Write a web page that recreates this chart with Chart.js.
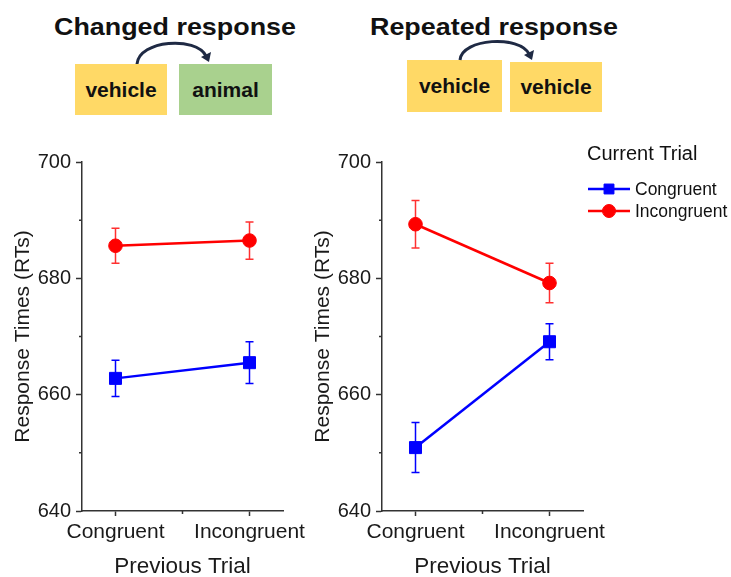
<!DOCTYPE html>
<html>
<head>
<meta charset="utf-8">
<script src="https://cdn.jsdelivr.net/npm/chart.js@4.4.1/dist/chart.umd.min.js"></script>
<style>
    body { margin: 0; width: 731px; height: 577px; overflow: hidden; background: #fff; position: relative;
           font-family: "Liberation Sans", Arial, sans-serif; color: #111; }
    .title { position: absolute; top: 15px; font-size: 24px; line-height: 24px; font-weight: bold;
             transform: scaleX(1.12); transform-origin: left top; white-space: nowrap; }
    .box { position: absolute; display: flex; align-items: center; justify-content: center;
           font-size: 21px; font-weight: bold; color: #111; }
    canvas { position: absolute; }
    svg { position: absolute; left: 0; top: 0; }
</style>
</head>
<body>

<div class="title" style="left:54px">Changed response</div>
<div class="title" style="left:370px">Repeated response</div>

<div class="box" style="left:75px;top:64px;width:92px;height:51px;background:#ffd966">vehicle</div>
<div class="box" style="left:179px;top:64px;width:93px;height:51px;background:#a9d18e">animal</div>
<div class="box" style="left:407px;top:60px;width:95px;height:52px;background:#ffd966">vehicle</div>
<div class="box" style="left:510px;top:62px;width:92px;height:50px;background:#ffd966">vehicle</div>

<svg width="731" height="130">
    <path d="M137,64 C139,40 196,36 206,56" fill="none" stroke="#1f2a44" stroke-width="3"/>
    <polygon points="209,62 201,57 211,52" fill="#1f2a44"/>
    <path d="M460,60 C462,38 520,35 529,54" fill="none" stroke="#1f2a44" stroke-width="3"/>
    <polygon points="532,60 524,55 534,50" fill="#1f2a44"/>
</svg>

<canvas id="chartChanged" width="330" height="447" style="left:0;top:130px"></canvas>
<canvas id="chartRepeated" width="431" height="447" style="left:300px;top:130px"></canvas>

<script>
// previous trial categories (x axis)
const categories = ['Congruent', 'Incongruent'];
// current trial series
const seriesNames = ['Congruent', 'Incongruent'];

// changed response panel
const changedCongruent = [662.8, 665.5];
const changedCongruentErr = [3.1, 3.6];
const changedIncongruent = [685.6, 686.5];
const changedIncongruentErr = [3.0, 3.2];

// repeated response panel
const repeatedCongruent = [650.9, 669.1];
const repeatedCongruentErr = [4.3, 3.1];
const repeatedIncongruent = [689.3, 679.2];
const repeatedIncongruentErr = [4.1, 3.4];

const yMin = 640, yMax = 700, yLabelStep = 20;

const FONT = '"Liberation Sans", Arial, sans-serif';
const blue = '#0000ff';
const red = '#ff0000';
const axisColor = '#333';

// error bars drawn under the markers
const errorBars = {
    id: 'errorBars',
    beforeDatasetsDraw(chart) {
        const ctx = chart.ctx;
        const xs = chart.scales.x, ys = chart.scales.y;
        chart.data.datasets.forEach(ds => {
            ctx.save();
            ctx.strokeStyle = ds.errColor;
            ctx.lineWidth = 1.5;
            ds.data.forEach((p, i) => {
                const x = xs.getPixelForValue(p.x);
                const top = ys.getPixelForValue(p.y + ds.errors[i]);
                const bot = ys.getPixelForValue(p.y - ds.errors[i]);
                ctx.beginPath();
                ctx.moveTo(x, top); ctx.lineTo(x, bot);
                ctx.moveTo(x - 4, top); ctx.lineTo(x + 4, top);
                ctx.moveTo(x - 4, bot); ctx.lineTo(x + 4, bot);
                ctx.stroke();
            });
            ctx.restore();
        });
    }
};

// short ticks for the unlabelled positions
const minorTicks = {
    id: 'minorTicks',
    afterDraw(chart) {
        const ctx = chart.ctx;
        const xs = chart.scales.x, ys = chart.scales.y;
        ctx.save();
        ctx.strokeStyle = axisColor;
        ctx.lineWidth = 1.5;
        ctx.beginPath();
        ys.ticks.forEach(t => {
            if (t.value % yLabelStep === 0) return;
            const y = ys.getPixelForValue(t.value);
            ctx.moveTo(ys.right - 3, y); ctx.lineTo(ys.right, y);
        });
        xs.ticks.forEach(t => {
            if (categories[t.value] !== undefined) return;
            const x = xs.getPixelForValue(t.value);
            ctx.moveTo(x, xs.top); ctx.lineTo(x, xs.top + 3);
        });
        ctx.stroke();
        ctx.restore();
    }
};

// legend to the right of the second panel
const sideLegend = {
    id: 'sideLegend',
    afterDraw(chart) {
        const ctx = chart.ctx;
        ctx.save();
        ctx.fillStyle = '#111';
        ctx.textBaseline = 'middle';
        ctx.font = '20px ' + FONT;
        ctx.fillText('Current Trial', 287, 24);
        ctx.font = '17.5px ' + FONT;
        chart.data.datasets.forEach((ds, i) => {
            const y = 59 + i * 22;
            ctx.strokeStyle = ds.borderColor;
            ctx.lineWidth = 2.5;
            ctx.beginPath(); ctx.moveTo(288, y); ctx.lineTo(330, y); ctx.stroke();
            ctx.fillStyle = ds.backgroundColor;
            ctx.lineWidth = 1;
            Chart.helpers.drawPoint(ctx, {
                pointStyle: ds.pointStyle,
                radius: ds.pointStyle === 'rect' ? 7 : 6.5,
                borderWidth: 1,
                rotation: 0
            }, 309, y);
            ctx.fillStyle = '#111';
            ctx.fillText(ds.label, 335, y + 1);
        });
        ctx.restore();
    }
};

function toPoints(values) {
    return values.map((v, i) => ({ x: i, y: v }));
}

function makeDataset(label, values, errs, color, errColor, style) {
    return {
        label: label,
        data: toPoints(values),
        errors: errs,
        errColor: errColor,
        borderColor: color,
        backgroundColor: color,
        borderWidth: 2.5,
        pointStyle: style,
        pointRadius: style === 'rect' ? 8.5 : 6.8,
        pointBorderWidth: 1,
        pointBackgroundColor: color,
        pointBorderColor: color
    };
}

function makeOptions(rightPad) {
    return {
        responsive: false,
        animation: false,
        layout: { padding: { left: 0, top: 32, right: rightPad, bottom: 0 } },
        plugins: { legend: { display: false }, tooltip: { enabled: false } },
        scales: {
            x: {
                type: 'linear',
                min: -0.25,
                max: 1.25,
                afterBuildTicks: s => { s.ticks = [0, 0.5, 1].map(v => ({ value: v })); },
                afterFit: s => { s.height = 66; s.paddingLeft = 0; s.paddingRight = 0; },
                ticks: {
                    autoSkip: false, maxRotation: 0, padding: 4, color: '#1a1a1a',
                    font: { family: FONT, size: 21 },
                    callback: v => categories[v] !== undefined ? categories[v] : ''
                },
                grid: {
                    drawOnChartArea: false, tickLength: 5, tickWidth: 1.5,
                    tickColor: c => (c.tick && categories[c.tick.value] !== undefined ? axisColor : 'rgba(0,0,0,0)')
                },
                border: { color: axisColor, width: 1.5 },
                title: {
                    display: true, text: 'Previous Trial', color: '#1a1a1a',
                    font: { family: FONT, size: 22.5, lineHeight: 0.9 }, padding: 0
                }
            },
            y: {
                min: yMin,
                max: yMax,
                afterFit: s => { s.width = 82; s.paddingTop = 0; s.paddingBottom = 0; },
                ticks: {
                    stepSize: 10, padding: 5, color: '#1a1a1a',
                    font: { family: FONT, size: 20 },
                    callback: v => (v % yLabelStep === 0 ? v : '')
                },
                grid: {
                    drawOnChartArea: false, tickLength: 6, tickWidth: 1.5,
                    tickColor: c => (c.tick && c.tick.value % yLabelStep === 0 ? axisColor : 'rgba(0,0,0,0)')
                },
                border: { color: axisColor, width: 1.5 },
                title: {
                    display: true, text: 'Response Times (RTs)', color: '#1a1a1a',
                    font: { family: FONT, size: 21 }, padding: { top: 11, bottom: 0 }
                }
            }
        }
    };
}

new Chart(document.getElementById('chartChanged'), {
    type: 'line',
    data: {
        datasets: [
            makeDataset(seriesNames[0], changedCongruent, changedCongruentErr, blue, blue, 'rect'),
            makeDataset(seriesNames[1], changedIncongruent, changedIncongruentErr, red, '#ff3030', 'circle')
        ]
    },
    options: makeOptions(47),
    plugins: [errorBars, minorTicks]
});

new Chart(document.getElementById('chartRepeated'), {
    type: 'line',
    data: {
        datasets: [
            makeDataset(seriesNames[0], repeatedCongruent, repeatedCongruentErr, blue, blue, 'rect'),
            makeDataset(seriesNames[1], repeatedIncongruent, repeatedIncongruentErr, red, '#ff3030', 'circle')
        ]
    },
    options: makeOptions(148),
    plugins: [errorBars, minorTicks, sideLegend]
});
</script>
</body>
</html>
